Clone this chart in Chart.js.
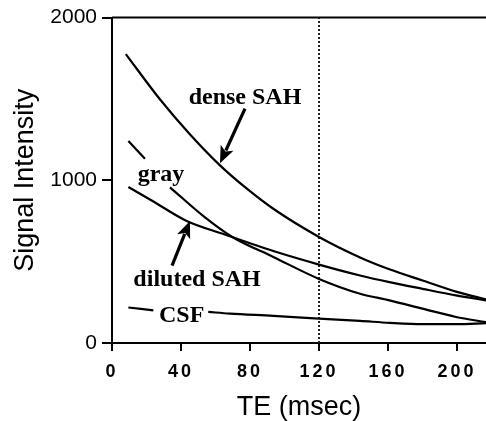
<!DOCTYPE html>
<html>
<head>
<meta charset="utf-8">
<script src="https://cdn.jsdelivr.net/npm/chart.js@4/dist/chart.umd.min.js"></script>
<style>
  html, body { margin: 0; padding: 0; background: #fff; }
  #wrap { width: 486px; height: 421px; position: relative; }
</style>
</head>
<body>
<div id="wrap"><canvas id="c"></canvas></div>
<script>
// ===== DATA =====
const TE_DENSE = [8, 28, 45, 62.6, 78, 93.5, 120, 143.8, 160.8, 180, 199.4, 216.8];
const SI_DENSE = [1776, 1495, 1285, 1092, 950, 825, 652, 526, 453, 384, 316, 268];

const TE_DILUTED = [9.5, 23, 43.3, 65, 93.5, 120, 143.8, 160.8, 180, 199.4, 216.8];
const SI_DILUTED = [959, 876, 750, 668, 565, 482, 415, 374, 333, 293, 262];

// null = gap behind the "gray" label
const TE_GRAY = [9.5, 19.1, 26, 33.6, 53.9, 70, 93.5, 120, 143.8, 160.8, 180, 199.4, 216.8];
const SI_GRAY = [1242, 1132, null, 957, 772, 650, 529, 394, 303, 262, 211, 160, 128];

// null = gap behind the "CSF" label
const TE_CSF = [9.5, 24, 40, 55.8, 68.4, 93.5, 120, 143.8, 160.8, 180, 199.4, 216.8];
const SI_CSF = [218, 201, null, 191, 181, 167, 150, 136, 124, 116, 116, 122];

const TE_CUTOFF = [120, 120];
const SI_CUTOFF = [0, 2000];

const X_TICKS = [0, 40, 80, 120, 160, 200];
const Y_TICKS = [0, 1000, 2000];

// ===== ANNOTATIONS (data coords) =====
const TEXTS = [
  { text: 'dense SAH',   te: 77.1, si: 1470 },
  { text: 'gray',        te: 28.4, si: 994 },
  { text: 'diluted SAH', te: 49.3, si: 348 },
  { text: 'CSF',         te: 40.4, si: 130 },
];
const ARROWS = [
  { from: [77.1, 1441], to: [62.6, 1105] },
  { from: [34.8, 476],  to: [45.2, 750] },
];

const pts = (xs, ys) => xs.map((x, i) => ({ x, y: ys[i] }));

const curve = (data) => ({
  data,
  borderColor: '#000',
  borderWidth: 2.2,
  pointRadius: 0,
  cubicInterpolationMode: 'monotone',
  fill: false,
  spanGaps: false,
});

function drawArrow(ctx, x0, y0, x1, y1) {
  const ang = Math.atan2(y1 - y0, x1 - x0);
  const head = 17, half = 7;
  const bx = x1 - head * Math.cos(ang), by = y1 - head * Math.sin(ang);
  ctx.lineWidth = 3.2;
  ctx.beginPath();
  ctx.moveTo(x0, y0);
  ctx.lineTo(bx + 3 * Math.cos(ang), by + 3 * Math.sin(ang));
  ctx.stroke();
  ctx.beginPath();
  ctx.moveTo(x1, y1);
  ctx.lineTo(bx + half * Math.sin(ang), by - half * Math.cos(ang));
  ctx.lineTo(bx + 4 * Math.cos(ang), by + 4 * Math.sin(ang));
  ctx.lineTo(bx - half * Math.sin(ang), by + half * Math.cos(ang));
  ctx.closePath();
  ctx.fill();
}

const annotate = {
  id: 'annotate',
  afterLayout(chart) {
    // spaced-out x tick labels like the original print
    const sx = chart.scales.x;
    if (sx && !sx._spaced) {
      const orig = sx.drawLabels.bind(sx);
      sx.drawLabels = function (area) {
        this.ctx.save();
        this.ctx.letterSpacing = '3px';
        orig(area);
        this.ctx.restore();
      };
      sx._spaced = true;
    }
  },
  afterDatasetsDraw(chart) {
    const { ctx, chartArea, scales: { x, y } } = chart;
    ctx.save();
    ctx.strokeStyle = '#000';
    ctx.fillStyle = '#000';
    // top frame line
    ctx.lineWidth = 2;
    ctx.beginPath();
    ctx.moveTo(chartArea.left, chartArea.top);
    ctx.lineTo(chartArea.right, chartArea.top);
    ctx.stroke();

    ctx.font = 'bold 24px "Liberation Serif", "Times New Roman", serif';
    ctx.textAlign = 'center';
    ctx.textBaseline = 'alphabetic';
    TEXTS.forEach(t => ctx.fillText(t.text, x.getPixelForValue(t.te), y.getPixelForValue(t.si)));

    ARROWS.forEach(a => drawArrow(ctx,
      x.getPixelForValue(a.from[0]), y.getPixelForValue(a.from[1]),
      x.getPixelForValue(a.to[0]),   y.getPixelForValue(a.to[1])));
    ctx.restore();
  },
};

new Chart(document.getElementById('c'), {
  type: 'line',
  data: {
    datasets: [
      curve(pts(TE_DENSE, SI_DENSE)),
      curve(pts(TE_DILUTED, SI_DILUTED)),
      curve(pts(TE_GRAY, SI_GRAY)),
      curve(pts(TE_CSF, SI_CSF)),
      {
        data: pts(TE_CUTOFF, SI_CUTOFF),
        borderColor: '#222',
        borderWidth: 2,
        borderDash: [2, 2],
        pointRadius: 0,
        tension: 0,
      },
    ],
  },
  options: {
    responsive: true, maintainAspectRatio: false,
    animation: false,
    layout: { padding: { top: 15, right: 0, left: 0, bottom: 0 } },
    plugins: { legend: { display: false }, tooltip: { enabled: false } },
    scales: {
      x: {
        type: 'linear',
        min: 0, max: 216.8,
        afterFit: s => { s.height = 78; },
        afterBuildTicks: s => { s.ticks = X_TICKS.map(v => ({ value: v })); },
        ticks: {
          color: '#000',
          font: { family: '"Liberation Sans", Arial, sans-serif', size: 18, weight: 'bold' },
          padding: 10,
          maxRotation: 0,
          callback: v => String(v),
        },
        grid: { drawOnChartArea: false, drawTicks: true, tickLength: 8, color: '#000', lineWidth: 2 },
        border: { display: true, color: '#000', width: 2 },
        title: {
          display: true, text: 'TE (msec)', color: '#000',
          font: { family: '"Liberation Sans", Arial, sans-serif', size: 27, lineHeight: 1 },
          padding: { top: 0, bottom: 0 },
        },
      },
      y: {
        min: 0, max: 2000,
        afterFit: s => { s.width = 112; },
        afterBuildTicks: s => { s.ticks = Y_TICKS.map(v => ({ value: v })); },
        ticks: {
          color: '#000',
          font: { family: '"Liberation Sans", Arial, sans-serif', size: 21 },
          padding: 5,
          callback: v => String(v),
        },
        grid: { drawOnChartArea: false, drawTicks: true, tickLength: 10, color: '#000', lineWidth: 2 },
        border: { display: true, color: '#000', width: 2 },
        title: {
          display: true, text: 'Signal Intensity', color: '#000',
          font: { family: '"Liberation Sans", Arial, sans-serif', size: 27, lineHeight: 1 },
          padding: { top: 12, bottom: 0 },
        },
      },
    },
  },
  plugins: [annotate],
});
</script>
</body>
</html>
